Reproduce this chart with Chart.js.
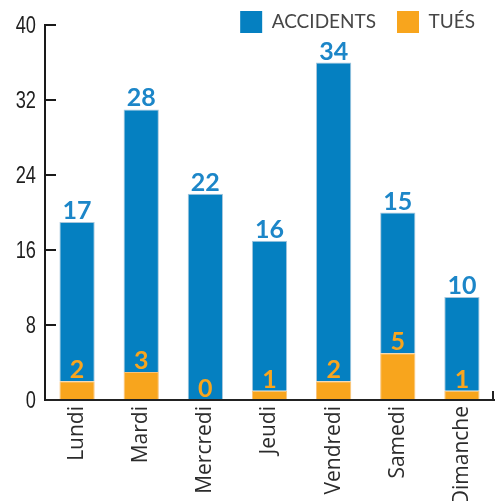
<!DOCTYPE html>
<html lang="fr">
<head>
<meta charset="utf-8">
<title>Accidents et tués par jour</title>
<script src="https://cdn.jsdelivr.net/npm/chart.js@4.4.1/dist/chart.umd.min.js"></script>
<style>
  html, body { margin: 0; padding: 0; background: #fff; }
  #wrap { position: relative; width: 499px; height: 501px; }
</style>
</head>
<body>
<div id="wrap"><canvas id="chart"></canvas></div>
<script>
// Data
const days = ['Lundi', 'Mardi', 'Mercredi', 'Jeudi', 'Vendredi', 'Samedi', 'Dimanche'];
const accidents = [17, 28, 22, 16, 34, 15, 10];
const killed = [2, 3, 0, 1, 2, 5, 1];
const yTickValues = [0, 8, 16, 24, 32, 40];

const BLUE = '#0580c1';
const BLUE_TEXT = '#1c86c8';
const ORANGE = '#f8a51d';

// Legend sits over the top of the plot: it must not take layout space
const legendOverlay = {
    id: 'legendOverlay',
    beforeLayout(chart) {
        const legend = chart.legend;
        if (!legend || legend._patched) return;
        const origFit = legend.fit;
        legend.fit = function() {
            origFit.call(this);
            this._fullHeight = this.height;
            this.height = 0;
        };
        legend._patched = true;
    },
    afterLayout(chart) {
        const legend = chart.legend;
        if (!legend) return;
        const pad = legend.options.labels.padding;
        legend.top = 11 - pad;
        legend.height = legend._fullHeight;
        legend.bottom = legend.top + legend.height;
        legend.left += 2;
        legend.right += 2;
    }
};

// Condensed y tick labels (no condensed face is installed, so squeeze the text)
const yTickLabels = {
    id: 'yTickLabels',
    afterDraw(chart) {
        const y = chart.scales.y;
        const ctx = chart.ctx;
        ctx.save();
        ctx.font = '24px "Liberation Sans", Arial, sans-serif';
        ctx.fillStyle = '#1e1e1e';
        ctx.textAlign = 'right';
        ctx.textBaseline = 'middle';
        y.ticks.forEach(t => {
            ctx.save();
            ctx.translate(y.right - 9, y.getPixelForValue(t.value) + 1);
            ctx.scale(0.76, 1);
            ctx.fillText(String(t.value), 0, 0);
            ctx.restore();
        });
        ctx.restore();
    }
};

// Values written above each segment
const valueLabels = {
    id: 'valueLabels',
    afterDatasetsDraw(chart) {
        const ctx = chart.ctx;
        chart.data.datasets.forEach((ds, di) => {
            const meta = chart.getDatasetMeta(di);
            if (meta.hidden) return;
            ctx.save();
            ctx.font = 'bold 25px Lato, sans-serif';
            ctx.fillStyle = ds.labelColor;
            ctx.textAlign = 'center';
            ctx.textBaseline = 'alphabetic';
            meta.data.forEach((bar, i) => {
                ctx.fillText(String(ds.data[i]), bar.x, bar.y - 3);
            });
            ctx.restore();
        });
    }
};

// Small upright tick closing the x axis on the right
const axisEndTick = {
    id: 'axisEndTick',
    afterDraw(chart) {
        const x = chart.scales.x;
        const ctx = chart.ctx;
        ctx.save();
        ctx.strokeStyle = '#222';
        ctx.lineWidth = 2;
        ctx.beginPath();
        ctx.moveTo(x.right - 1, x.top + 1);
        ctx.lineTo(x.right - 1, x.top - 9);
        ctx.stroke();
        ctx.restore();
    }
};

new Chart(document.getElementById('chart'), {
    type: 'bar',
    data: {
        labels: days,
        datasets: [
            {
                label: 'TUÉS',
                data: killed,
                backgroundColor: ORANGE,
                borderColor: '#f9c37a',
                borderWidth: 1,
                labelColor: ORANGE,
                barPercentage: 0.55,
                categoryPercentage: 1
            },
            {
                label: 'ACCIDENTS',
                data: accidents,
                backgroundColor: BLUE,
                borderColor: '#a6c6dc',
                borderWidth: 1,
                labelColor: BLUE_TEXT,
                barPercentage: 0.55,
                categoryPercentage: 1
            }
        ]
    },
    options: {
        responsive: true,
        maintainAspectRatio: false,
        animation: false,
        layout: {
            padding: { top: 25, right: 5, bottom: 0, left: 0 }
        },
        plugins: {
            legend: {
                position: 'top',
                align: 'end',
                reverse: true,
                labels: {
                    boxWidth: 22,
                    boxHeight: 22,
                    padding: 21,
                    color: '#464646',
                    font: { family: 'Lato, sans-serif', size: 19 },
                    generateLabels(chart) {
                        const items = Chart.defaults.plugins.legend.labels.generateLabels(chart);
                        items.forEach(item => { item.lineWidth = 0; });
                        return items;
                    }
                }
            },
            tooltip: { enabled: false }
        },
        scales: {
            x: {
                stacked: true,
                offset: true,
                border: { display: true, color: '#222', width: 2 },
                grid: { display: false, drawTicks: false },
                ticks: {
                    autoSkip: false,
                    minRotation: 90,
                    maxRotation: 90,
                    padding: 6,
                    color: '#2b2b2b',
                    font: { family: '"Open Sans", sans-serif', size: 21 }
                },
                afterFit(scale) { scale.height = 101; }
            },
            y: {
                stacked: true,
                min: 0,
                max: 40,
                border: { display: true, color: '#1a1a1a', width: 2 },
                grid: {
                    drawOnChartArea: false,
                    drawTicks: true,
                    tickLength: -11,
                    color: '#1a1a1a',
                    lineWidth: 2
                },
                ticks: { display: false },
                afterBuildTicks(scale) {
                    scale.ticks = yTickValues.map(v => ({ value: v }));
                },
                afterFit(scale) {
                    scale.width = 45;
                    scale.paddingTop = 0;
                    scale.paddingBottom = 0;
                }
            }
        }
    },
    plugins: [legendOverlay, yTickLabels, valueLabels, axisEndTick]
});
</script>
</body>
</html>
